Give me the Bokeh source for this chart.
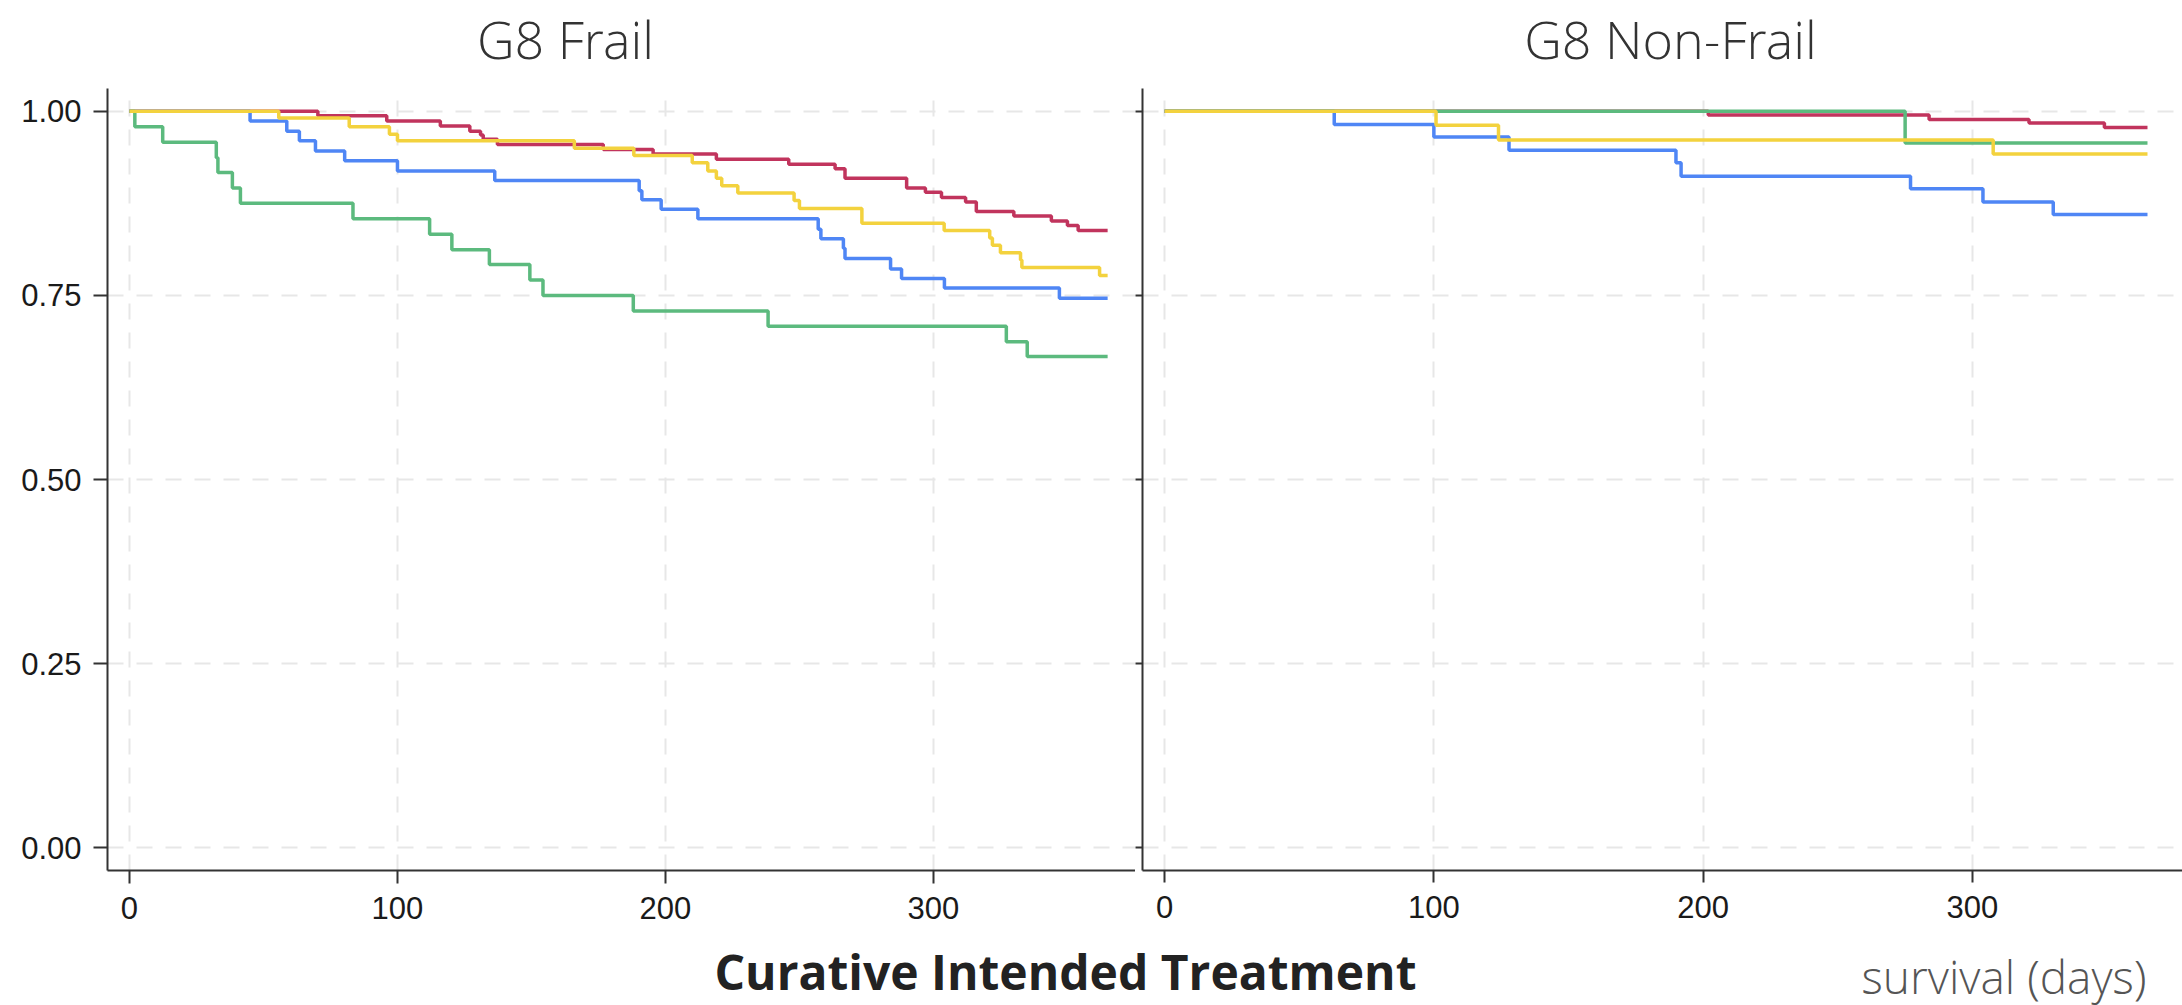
from bokeh.plotting import figure
from bokeh.models import Range1d, FixedTicker, NumeralTickFormatter, Label, CustomLabelingPolicy
from bokeh.layouts import row, column
from bokeh.embed import file_html
from bokeh.resources import INLINE

panel_titles = ["G8 Frail", "G8 Non-Frail"]
x_title = "Curative Intended Treatment"
x_unit = "survival (days)"
x_ticks = [0, 100, 200, 300]
y_ticks = [0.0, 0.25, 0.5, 0.75, 1.0]

# ---- G8 Frail (survival days, survival probability) ----
frail_red_t = [0, 70.3, 96, 116, 127, 131, 132, 137.3, 176.8, 195.4, 219, 246, 263.3, 267, 290, 297, 303, 312, 316, 330, 344, 350, 354, 365]
frail_red_s = [1, 0.994, 0.987, 0.980, 0.973, 0.968, 0.962, 0.955, 0.948, 0.942, 0.935, 0.928, 0.922, 0.909, 0.896, 0.890, 0.883, 0.877, 0.864, 0.858, 0.851, 0.845, 0.838, 0.838]

frail_blue_t = [0, 45, 58.7, 63.4, 69.4, 80.3, 100, 136.3, 190.2, 191.2, 198.4, 212.1, 257, 258, 266.4, 267, 284, 288.1, 304.1, 347, 365]
frail_blue_s = [1, 0.987, 0.973, 0.960, 0.946, 0.933, 0.919, 0.906, 0.892, 0.880, 0.867, 0.854, 0.840, 0.827, 0.814, 0.800, 0.786, 0.773, 0.760, 0.746, 0.746]

frail_green_t = [0, 2, 12.4, 32.4, 33, 38.4, 41.4, 83.4, 112, 120.3, 134.3, 149.4, 154.3, 188, 238.3, 327.2, 335, 365]
frail_green_s = [1, 0.979, 0.958, 0.937, 0.917, 0.896, 0.875, 0.854, 0.833, 0.812, 0.792, 0.771, 0.750, 0.729, 0.708, 0.687, 0.667, 0.667]

frail_yellow_t = [0, 55.7, 82, 97, 100, 166, 188.2, 210, 215.8, 219, 221, 227, 248, 250, 273.3, 304, 321, 322, 325, 332.5, 333, 362, 365]
frail_yellow_s = [1, 0.991, 0.979, 0.969, 0.960, 0.950, 0.940, 0.930, 0.919, 0.909, 0.899, 0.889, 0.879, 0.868, 0.848, 0.838, 0.828, 0.818, 0.808, 0.798, 0.788, 0.777, 0.777]

# ---- G8 Non-Frail ----
nonfrail_red_t = [0, 201.9, 283.9, 321, 349, 365]
nonfrail_red_s = [1, 0.995, 0.989, 0.984, 0.978, 0.978]

nonfrail_blue_t = [0, 63, 100, 127.9, 189.9, 191.8, 277, 303.9, 330, 365]
nonfrail_blue_s = [1, 0.982, 0.965, 0.947, 0.930, 0.912, 0.895, 0.877, 0.860, 0.860]

nonfrail_green_t = [0, 275, 365]
nonfrail_green_s = [1, 0.957, 0.957]

nonfrail_yellow_t = [0, 100.8, 124, 307.7, 365]
nonfrail_yellow_s = [1, 0.981, 0.961, 0.942, 0.942]

colors = {"red": "#c1345d", "blue": "#4f86f5", "green": "#5cba7e", "yellow": "#f3d23e"}

AXIS_COLOR = "#333333"
GRID_COLOR = "#e7e7e7"
TICK_FONT = "Liberation Sans"
LIGHT_FONT = "Open Sans Light, Open Sans"


def style(p, show_ylabels):
    p.outline_line_color = None
    p.background_fill_color = "white"
    for g, t in ((p.xgrid, x_ticks), (p.ygrid, y_ticks)):
        g.ticker = FixedTicker(ticks=t)
        g.grid_line_color = GRID_COLOR
        g.grid_line_width = 2
        g.grid_line_dash = "16 13"
    p.xaxis.ticker = FixedTicker(ticks=x_ticks)
    p.yaxis.ticker = FixedTicker(ticks=y_ticks)
    p.yaxis.formatter = NumeralTickFormatter(format="0.00")
    for ax in (p.xaxis, p.yaxis):
        ax.axis_line_color = AXIS_COLOR
        ax.axis_line_width = 2
        ax.major_tick_line_color = AXIS_COLOR
        ax.major_tick_line_width = 2
        ax.major_tick_in = 0
        ax.minor_tick_line_color = None
        ax.major_label_text_font = TICK_FONT
        ax.major_label_text_font_size = "31px"
        ax.major_label_text_color = "#1a1a1a"
    p.xaxis.major_tick_out = 12
    p.xaxis.major_label_standoff = 13
    if show_ylabels:
        p.yaxis.major_tick_out = 14
        p.yaxis.major_label_standoff = 12
    else:
        p.yaxis.major_tick_out = 7
        p.yaxis.major_label_standoff = 0
        p.yaxis.major_label_text_font_size = "0px"
        p.yaxis.major_label_policy = CustomLabelingPolicy(code="return []")


def curves(p, data):
    for name, t, s in data:
        p.step(x=t, y=s, mode="after", line_color=colors[name], line_width=3.5)


def strip(h):
    s = figure(width=2182, height=h, x_range=Range1d(0, 2182), y_range=Range1d(0, h),
               output_backend="svg", toolbar_location=None, title=None,
               min_border_left=0, min_border_right=0, min_border_top=0, min_border_bottom=0)
    s.axis.visible = False
    s.grid.visible = False
    s.outline_line_color = None
    return s


# top strip with facet titles
p0 = strip(84)
for cx, txt in ((565, panel_titles[0]), (1670, panel_titles[1])):
    p0.add_layout(Label(x=cx, y=46, text=txt, text_align="center", text_baseline="alphabetic",
                        text_font=LIGHT_FONT, text_font_size="52px", text_color="#333333"))

p1 = figure(width=1135, height=854, x_range=Range1d(-8.2, 375.4), y_range=Range1d(-0.031, 1.031),
            output_backend="svg", toolbar_location=None, title=None,
            min_border_left=107, min_border_right=0, min_border_top=0, min_border_bottom=68)
style(p1, True)
p1.xaxis.major_tick_out = 13
curves(p1, [("red", frail_red_t, frail_red_s), ("blue", frail_blue_t, frail_blue_s),
            ("green", frail_green_t, frail_green_s), ("yellow", frail_yellow_t, frail_yellow_s)])

p2 = figure(width=1047, height=854, x_range=Range1d(-8.2, 378), y_range=Range1d(-0.031, 1.031),
            output_backend="svg", toolbar_location=None, title=None,
            min_border_left=7, min_border_right=0, min_border_top=4, min_border_bottom=61)
style(p2, False)
curves(p2, [("red", nonfrail_red_t, nonfrail_red_s), ("blue", nonfrail_blue_t, nonfrail_blue_s),
            ("green", nonfrail_green_t, nonfrail_green_s), ("yellow", nonfrail_yellow_t, nonfrail_yellow_s)])

# bottom strip with the x-axis caption
p3 = strip(67)
p3.add_layout(Label(x=1065, y=34, text=x_title, text_align="center", text_baseline="middle",
                    text_font="Open Sans", text_font_style="bold", text_font_size="48px",
                    text_color="#222222"))
p3.add_layout(Label(x=2146, y=30, text=x_unit, text_align="right", text_baseline="middle",
                    text_font=LIGHT_FONT, text_font_size="46px", text_color="#555555"))

layout = column(p0, row(p1, p2), p3)
open("out.html", "w").write(file_html(layout, INLINE))
